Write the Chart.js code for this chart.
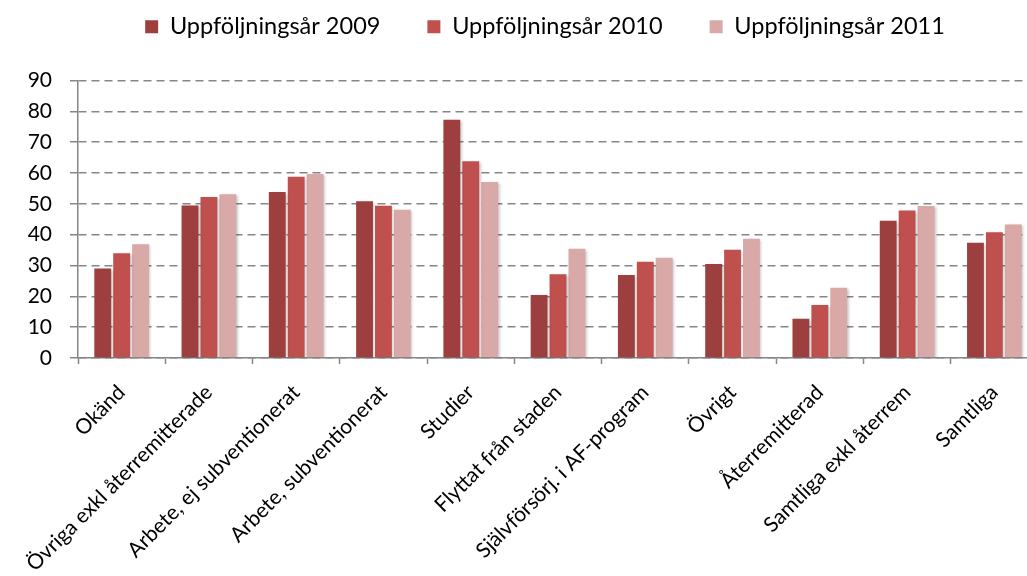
<!DOCTYPE html>
<html lang="sv">
<head>
    <meta charset="UTF-8">
    <title>Uppföljning</title>
    <script src="https://cdn.jsdelivr.net/npm/chart.js"></script>
    <style>
        html, body { margin: 0; padding: 0; background: #fff; overflow: hidden; }
        canvas { display: block; }
    </style>
</head>

<body>
    <canvas id="chart" width="1040" height="576"></canvas>

    <script>
        // kategorier och värden (avlästa ur originalbilden)
        const categories = [
            'Okänd',
            'Övriga exkl återremitterade',
            'Arbete, ej subventionerat',
            'Arbete, subventionerat',
            'Studier',
            'Flyttat från staden',
            'Självförsörj. i AF-program',
            'Övrigt',
            'Återremitterad',
            'Samtliga exkl återrem',
            'Samtliga'
        ];
        const seriesNames = ['Uppföljningsår 2009', 'Uppföljningsår 2010', 'Uppföljningsår 2011'];
        const values2009 = [29, 49.5, 53.8, 50.8, 77.3, 20.4, 26.9, 30.5, 12.7, 44.5, 37.4];
        const values2010 = [34, 52.2, 58.8, 49.4, 63.8, 27.2, 31.2, 35.1, 17.2, 47.8, 40.8];
        const values2011 = [36.9, 53.1, 59.7, 48.1, 57.1, 35.4, 32.5, 38.7, 22.8, 49.3, 43.3];
        const yTicks = [0, 10, 20, 30, 40, 50, 60, 70, 80, 90];

        const colors = ['#9d3f3f', '#c0504d', '#d9a9a8'];
        const font = 'Lato';
        const grey = '#868686';

        // skugga bakom staplarna
        const barShadow = {
            id: 'barShadow',
            beforeDatasetsDraw(chart) {
                const c = chart.ctx;
                c.save();
                c.shadowColor = 'rgba(0,0,0,0.28)';
                c.shadowBlur = 3;
                c.shadowOffsetX = 1.5;
                c.shadowOffsetY = 1;
            },
            afterDatasetsDraw(chart) {
                chart.ctx.restore();
            }
        };

        // extra luft under förklaringen, och förklaringen lite åt höger
        const legendGap = {
            id: 'legendGap',
            beforeLayout(chart) {
                const legend = chart.legend;
                if (!legend || legend._gapPatched) return;
                const fit = legend.fit;
                legend.fit = function () {
                    fit.call(this);
                    this.height += 32;
                };
                legend._gapPatched = true;
            },
            afterLayout(chart) {
                if (chart.legend) chart.legend.left += 52;
            }
        };

        const ctx = document.getElementById('chart').getContext('2d');
        const chart = new Chart(ctx, {
            type: 'bar',
            data: {
                labels: categories,
                datasets: [
                    { label: seriesNames[0], data: values2009, backgroundColor: colors[0] },
                    { label: seriesNames[1], data: values2010, backgroundColor: colors[1] },
                    { label: seriesNames[2], data: values2011, backgroundColor: colors[2] }
                ]
            },
            options: {
                responsive: false,
                animation: false,
                devicePixelRatio: 1,
                categoryPercentage: 0.65,
                barPercentage: 0.89,
                borderWidth: 0,
                layout: { padding: { top: -32, left: 0, right: 2, bottom: 0 } },
                plugins: {
                    tooltip: { enabled: false },
                    legend: {
                        position: 'top',
                        labels: {
                            boxWidth: 13,
                            boxHeight: 13,
                            padding: 47,
                            color: '#000',
                            font: { family: font, size: 23.5 }
                        }
                    }
                },
                scales: {
                    x: {
                        offset: true,
                        grid: {
                            display: true,
                            drawOnChartArea: false,
                            offset: true,
                            tickLength: 6,
                            tickColor: grey,
                            tickWidth: 1.5
                        },
                        border: { display: true, color: grey, width: 1.5 },
                        ticks: {
                            autoSkip: false,
                            minRotation: 45,
                            maxRotation: 45,
                            padding: 16,
                            color: '#000',
                            font: { family: font, size: 21 }
                        },
                        afterFit(scale) { scale.height = 218; }
                    },
                    y: {
                        min: yTicks[0],
                        max: yTicks[yTicks.length - 1],
                        grid: {
                            color: grey,
                            lineWidth: 1.5,
                            tickLength: 8,
                            tickColor: grey,
                            tickWidth: 1.5,
                            tickBorderDash: []
                        },
                        border: { display: true, color: grey, width: 1.5, dash: [8, 5] },
                        ticks: {
                            stepSize: yTicks[1] - yTicks[0],
                            autoSkip: false,
                            padding: 18,
                            color: '#000',
                            font: { family: font, size: 21 },
                            callback: v => yTicks.includes(v) ? String(v) : ''
                        },
                        afterFit(scale) { scale.width = 78; }
                    }
                }
            },
            plugins: [barShadow, legendGap]
        });
    </script>
</body>
</html>
